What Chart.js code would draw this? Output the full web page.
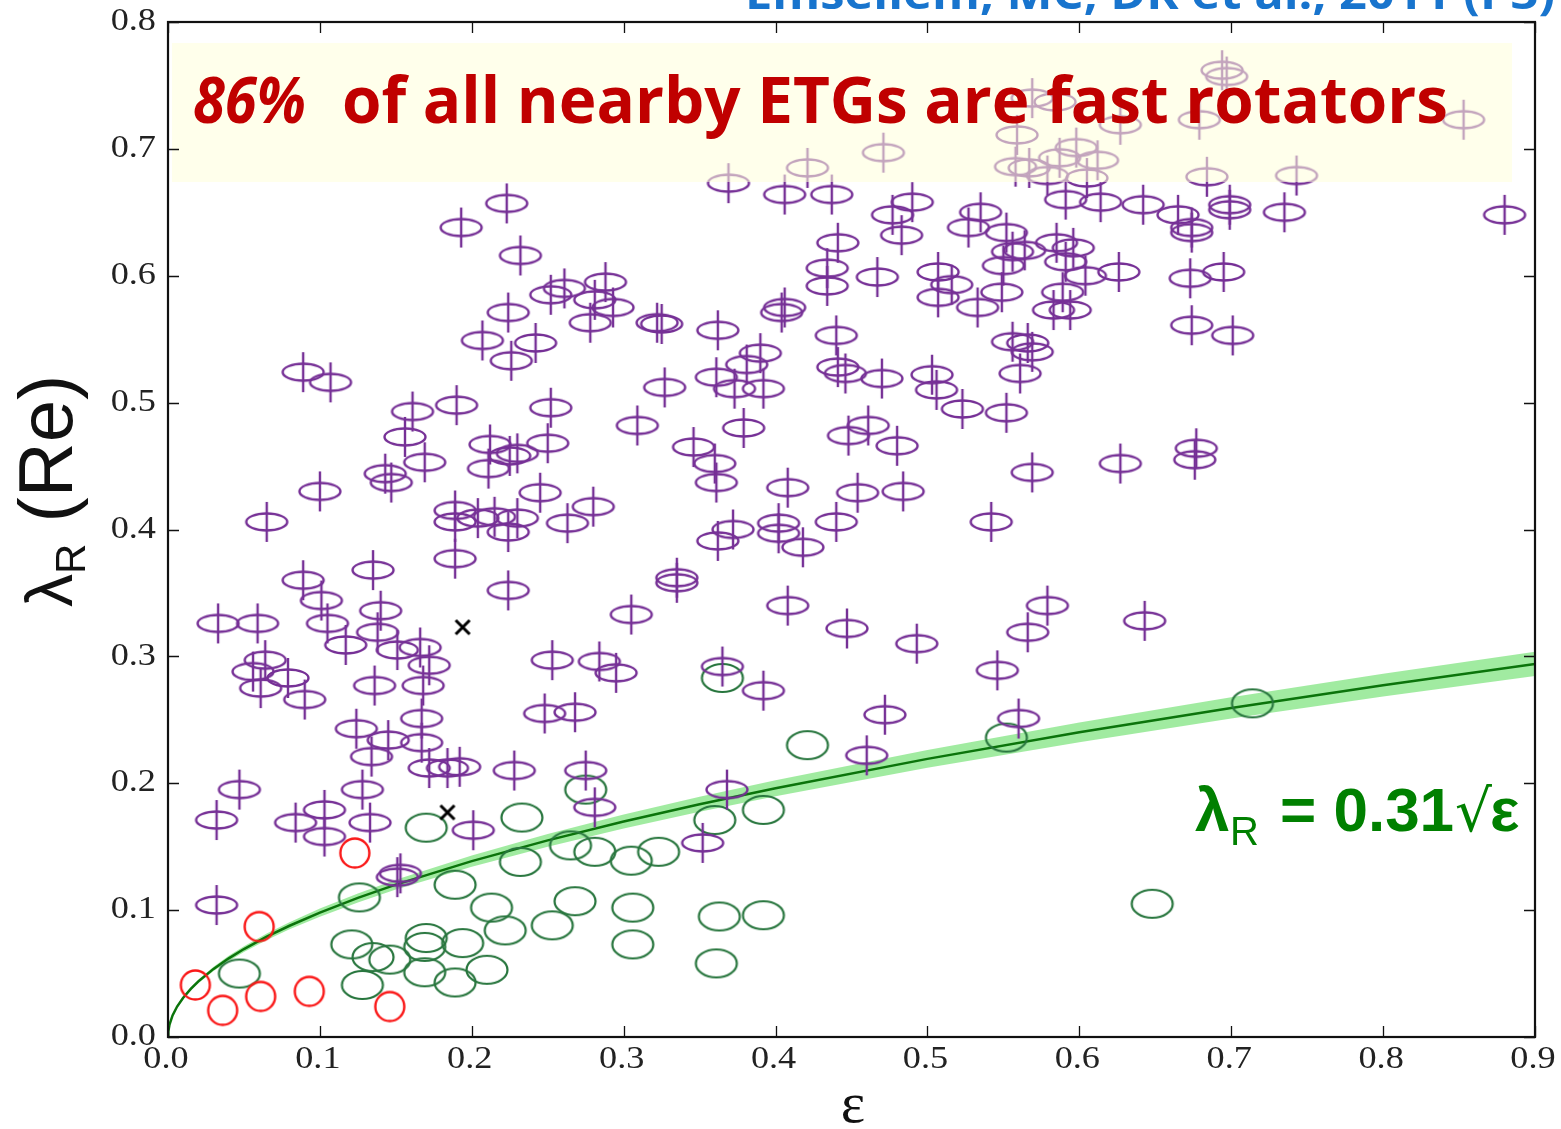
<!DOCTYPE html>
<html>
<head>
<meta charset="utf-8">
<script src="https://cdn.jsdelivr.net/npm/chart.js@4.4.0/dist/chart.umd.min.js"></script>
<style>
  html, body { margin: 0; padding: 0; background: #fff; }
</style>
</head>
<body>
<canvas id="lambdaChart" width="1561" height="1129"></canvas>
<script>
// fast rotators (ellipticity, lambda_R)
const fastEps = [0.694,0.697,0.853,0.679,0.627,0.559,0.569,0.584,0.471,0.421,0.369,0.598,0.612,0.587,0.558,0.567,0.579,0.605,0.684,0.743,
  0.880,0.735,0.699,0.699,0.665,0.642,0.614,0.591,0.674,0.674,0.585,0.596,0.591,0.604,0.626,0.673,0.695,0.589,0.583,0.594,0.674,0.701,
  0.406,0.437,0.490,0.477,0.483,0.535,0.527,0.552,0.556,0.564,0.550,0.441,0.434,0.434,0.467,0.507,0.516,0.507,0.533,0.549,
  0.288,0.281,0.293,0.278,0.322,0.325,0.362,0.406,0.404,0.440,0.556,0.566,0.569,0.561,0.523,0.552,0.503,0.506,0.470,0.441,0.446,
  0.390,0.381,0.361,0.373,0.392,0.327,0.309,0.379,0.346,0.360,0.361,0.461,0.448,0.480,0.569,0.408,0.454,0.484,0.440,0.542,
  0.372,0.362,0.402,0.402,0.418,0.335,0.335,0.223,0.193,0.232,0.261,0.252,0.224,0.207,0.242,0.226,0.089,0.107,0.161,0.190,0.252,
  0.156,0.169,0.143,0.147,0.212,0.230,0.225,0.250,0.211,0.100,0.065,0.189,0.189,0.215,0.230,0.204,0.224,0.245,0.280,0.263,
  0.189,0.135,0.089,0.224,0.101,0.140,0.033,0.059,0.105,0.138,0.117,0.166,0.151,0.064,0.172,0.056,0.079,0.061,0.136,0.168,0.090,
  0.253,0.284,0.295,0.248,0.268,0.124,0.145,0.167,0.167,0.134,0.172,0.184,0.192,0.228,0.275,0.047,0.128,0.103,0.032,0.084,0.133,
  0.103,0.201,0.281,0.153,0.151,0.305,0.408,0.447,0.493,0.546,0.566,0.579,0.365,0.392,0.472,0.560,0.460,0.368,0.352,
  0.627,0.677,0.676,0.643,0.032];
const fastLam = [0.762,0.757,0.723,0.723,0.719,0.711,0.740,0.737,0.697,0.685,0.673,0.701,0.691,0.693,0.686,0.685,0.679,0.677,0.678,0.679,
  0.648,0.650,0.656,0.652,0.648,0.656,0.658,0.660,0.638,0.634,0.626,0.622,0.611,0.600,0.603,0.598,0.603,0.587,0.573,0.573,0.561,0.553,
  0.664,0.664,0.658,0.648,0.632,0.650,0.638,0.634,0.619,0.620,0.608,0.626,0.606,0.592,0.599,0.603,0.593,0.583,0.575,0.587,
  0.595,0.581,0.575,0.563,0.563,0.562,0.557,0.575,0.571,0.553,0.548,0.547,0.540,0.523,0.495,0.492,0.522,0.510,0.519,0.528,0.523,
  0.539,0.530,0.520,0.511,0.511,0.512,0.482,0.480,0.465,0.452,0.437,0.482,0.474,0.466,0.445,0.433,0.429,0.430,0.406,0.406,
  0.400,0.391,0.405,0.397,0.386,0.362,0.358,0.657,0.638,0.616,0.590,0.585,0.571,0.549,0.547,0.533,0.524,0.516,0.493,0.498,0.496,
  0.473,0.453,0.444,0.437,0.467,0.460,0.458,0.468,0.448,0.430,0.406,0.415,0.406,0.410,0.409,0.409,0.398,0.429,0.418,0.405,
  0.377,0.368,0.360,0.352,0.344,0.336,0.326,0.326,0.326,0.319,0.309,0.307,0.305,0.297,0.293,0.288,0.283,0.275,0.277,0.277,0.266,
  0.297,0.296,0.287,0.255,0.256,0.243,0.234,0.232,0.251,0.221,0.212,0.212,0.213,0.210,0.210,0.195,0.195,0.179,0.171,0.169,0.169,
  0.158,0.163,0.181,0.129,0.126,0.333,0.340,0.322,0.310,0.289,0.319,0.340,0.292,0.273,0.254,0.251,0.222,0.195,0.153,
  0.452,0.464,0.455,0.328,0.104];

// slow rotators
const slowEps = [0.714,0.552,0.421,0.648,0.392,0.360,0.365,0.275,0.233,0.170,0.265,0.281,0.305,0.323,0.232,0.189,0.126,0.213,0.268,
  0.306,0.363,0.392,0.121,0.170,0.169,0.194,0.253,0.222,0.306,0.135,0.146,0.169,0.210,0.189,0.128,0.047,0.361];
const slowLam = [0.263,0.236,0.230,0.105,0.179,0.171,0.283,0.195,0.173,0.165,0.151,0.146,0.139,0.146,0.138,0.120,0.110,0.102,0.107,
  0.102,0.095,0.096,0.073,0.078,0.071,0.074,0.088,0.084,0.073,0.063,0.061,0.051,0.053,0.043,0.041,0.050,0.058];

// low-ellipticity slow rotators (red circles)
const redEps = [0.018,0.036,0.061,0.093,0.146,0.060,0.123];
const redLam = [0.041,0.021,0.032,0.036,0.024,0.087,0.145];

// unclassified (black crosses)
const crossEps = [0.194,0.184];
const crossLam = [0.323,0.177];

// lambda_R = 0.31 sqrt(eps), band +/- 0.01 on the coefficient
const fitCoef = 0.31;
const fitSpread = 0.01;
const curveEps = [0, 0.0002, 0.001, 0.003, 0.006, 0.01, 0.015, 0.02, 0.03, 0.04, 0.05, 0.065, 0.08, 0.1, 0.125, 0.15, 0.2,
  0.25, 0.3, 0.35, 0.4, 0.5, 0.6, 0.7, 0.8, 0.9];

const xTicks = [0.0, 0.1, 0.2, 0.3, 0.4, 0.5, 0.6, 0.7, 0.8, 0.9];
const yTicks = [0.0, 0.1, 0.2, 0.3, 0.4, 0.5, 0.6, 0.7, 0.8];

function pairs(xs, ys) {
  return xs.map((x, i) => ({ x: x, y: ys[i] }));
}
function curve(coef) {
  return curveEps.map(e => ({ x: e, y: coef * Math.sqrt(e) }));
}

function makeMarker(w, h, paint) {
  const c = document.createElement('canvas');
  c.width = w;
  c.height = h;
  paint(c.getContext('2d'), w / 2, h / 2);
  return c;
}

const purpleMark = makeMarker(48, 46, (g, cx, cy) => {
  g.strokeStyle = 'rgb(118,48,150)';
  g.lineWidth = 2.4;
  g.beginPath();
  g.ellipse(cx, cy, 20.5, 8.5, 0, 0, Math.PI * 2);
  g.stroke();
  g.beginPath();
  g.moveTo(cx, cy - 20);
  g.lineTo(cx, cy + 20);
  g.stroke();
});
const greenMark = makeMarker(48, 34, (g, cx, cy) => {
  g.strokeStyle = 'rgb(40,118,62)';
  g.lineWidth = 2.2;
  g.beginPath();
  g.ellipse(cx, cy, 20.5, 14, 0, 0, Math.PI * 2);
  g.stroke();
});
const redMark = makeMarker(36, 36, (g, cx, cy) => {
  g.strokeStyle = 'rgb(250,25,25)';
  g.lineWidth = 2.4;
  g.beginPath();
  g.arc(cx, cy, 14.5, 0, Math.PI * 2);
  g.stroke();
});
const crossMark = makeMarker(22, 22, (g, cx, cy) => {
  g.strokeStyle = '#000';
  g.lineWidth = 3;
  g.beginPath();
  g.moveTo(cx - 7, cy - 7); g.lineTo(cx + 7, cy + 7);
  g.moveTo(cx + 7, cy - 7); g.lineTo(cx - 7, cy + 7);
  g.stroke();
});

// banner box over the top of the data + its text
const bannerPlugin = {
  id: 'banner',
  afterDatasetsDraw(chart) {
    const ctx = chart.ctx;
    ctx.save();
    ctx.fillStyle = 'rgba(255,255,219,0.56)';
    ctx.fillRect(172, 43, 1340, 139);

    ctx.fillStyle = '#c00000';
    ctx.textBaseline = 'alphabetic';
    const rest = 'of all nearby ETGs are fast rotators';
    ctx.font = 'bold 70px "Open Sans"';
    const size = 70 * 1106 / ctx.measureText(rest).width;
    ctx.font = 'italic bold ' + size.toFixed(1) + 'px "Open Sans"';
    const pw = ctx.measureText('86%').width;
    ctx.save();
    ctx.translate(193, 123);
    ctx.scale(113 / pw, 1);
    ctx.fillText('86%', 0, 0);
    ctx.restore();
    ctx.font = 'bold ' + size.toFixed(1) + 'px "Open Sans"';
    ctx.fillText(rest, 342, 123);
    ctx.restore();
  }
};

const framePlugin = {
  id: 'frame',
  afterDraw(chart) {
    const ctx = chart.ctx;
    const a = chart.chartArea;
    const xs = chart.scales.x, ys = chart.scales.y;
    ctx.save();

    // inward ticks on all four sides
    ctx.strokeStyle = '#111';
    ctx.lineWidth = 1.3;
    ctx.beginPath();
    xTicks.forEach(v => {
      const px = Math.round(xs.getPixelForValue(v)) + 0.5;
      ctx.moveTo(px, a.bottom); ctx.lineTo(px, a.bottom - 11);
      ctx.moveTo(px, a.top); ctx.lineTo(px, a.top + 11);
    });
    yTicks.forEach(v => {
      const py = Math.round(ys.getPixelForValue(v)) + 0.5;
      ctx.moveTo(a.left, py); ctx.lineTo(a.left + 11, py);
      ctx.moveTo(a.right, py); ctx.lineTo(a.right - 11, py);
    });
    ctx.stroke();

    ctx.lineWidth = 2.2;
    ctx.strokeStyle = '#111';
    ctx.strokeRect(a.left, a.top, a.right - a.left, a.bottom - a.top);

    // tick labels, stretched a little to the wider TeX-style digits
    ctx.fillStyle = '#222';
    ctx.font = '31px "Liberation Serif"';
    ctx.textBaseline = 'middle';
    yTicks.forEach(v => {
      ctx.save();
      ctx.translate(156, ys.getPixelForValue(v));
      ctx.scale(1.17, 1);
      ctx.textAlign = 'right';
      ctx.fillText(v.toFixed(1), 0, 0);
      ctx.restore();
    });
    ctx.textBaseline = 'top';
    xTicks.forEach(v => {
      ctx.save();
      ctx.translate(xs.getPixelForValue(v) - 2, 1044);
      ctx.scale(1.17, 1);
      ctx.textAlign = 'center';
      ctx.fillText(v.toFixed(1), 0, 0);
      ctx.restore();
    });

    // axis titles
    ctx.fillStyle = '#111';
    ctx.textAlign = 'center';
    ctx.font = '58px "Liberation Serif"';
    ctx.textBaseline = 'alphabetic';
    ctx.fillText('\u03b5', 853, 1122);

    ctx.save();
    ctx.translate(72, 607);
    ctx.rotate(-Math.PI / 2);
    ctx.textAlign = 'left';
    ctx.font = '66px "Liberation Sans"';
    ctx.fillText('\u03bb', 0, 0);
    let off = ctx.measureText('\u03bb').width;
    ctx.font = '42px "Liberation Sans"';
    ctx.fillText('R', off, 13);
    off += ctx.measureText('R').width;
    ctx.font = '76px "Liberation Sans"';
    ctx.fillText(' (Re)', off, 0);
    ctx.restore();

    // fit formula
    ctx.fillStyle = '#008000';
    ctx.textAlign = 'left';
    ctx.font = 'bold 62px "Liberation Sans"';
    ctx.fillText('\u03bb', 1195, 831);
    ctx.font = '40px "Liberation Sans"';
    ctx.fillText('R', 1230, 845);
    ctx.font = 'bold 62px "Liberation Sans"';
    ctx.fillText('= 0.31', 1280, 831);
    ctx.font = '58px "DejaVu Sans"';
    ctx.fillText('\u221a', 1455, 831);
    ctx.font = 'bold 62px "Liberation Sans"';
    ctx.fillText('\u03b5', 1490, 831);

    // reference line, cut off at the top edge
    ctx.fillStyle = '#1874cd';
    ctx.font = 'bold 44px "Open Sans"';
    const ref = 'Emsellem, MC, DK et al., 2011 (P3)';
    const w = ctx.measureText(ref).width;
    ctx.save();
    ctx.translate(745, 9);
    ctx.scale(810 / w, 1);
    ctx.fillText(ref, 0, 0);
    ctx.restore();

    ctx.restore();
  }
};

const ctx = document.getElementById('lambdaChart');
new Chart(ctx, {
  type: 'scatter',
  data: {
    datasets: [
      { label: 'unclassified', data: pairs(crossEps, crossLam), pointStyle: crossMark, pointRadius: 8, order: 0 },
      { label: 'fast', data: pairs(fastEps, fastLam), pointStyle: purpleMark, pointRadius: 10, order: 1 },
      { label: 'red', data: pairs(redEps, redLam), pointStyle: redMark, pointRadius: 10, order: 2 },
      { label: 'slow', data: pairs(slowEps, slowLam), pointStyle: greenMark, pointRadius: 10, order: 3 },
      { type: 'line', label: 'fit', data: curve(fitCoef), borderColor: '#0b740b', borderWidth: 2.5,
        pointRadius: 0, fill: false, tension: 0, order: 4 },
      { type: 'line', label: 'low', data: curve(fitCoef - fitSpread), borderWidth: 0, borderColor: 'rgba(0,0,0,0)',
        pointRadius: 0, fill: false, tension: 0, order: 6 },
      { type: 'line', label: 'high', data: curve(fitCoef + fitSpread), borderWidth: 0, borderColor: 'rgba(0,0,0,0)',
        backgroundColor: 'rgba(110,225,110,0.65)', pointRadius: 0, fill: 5, tension: 0, order: 5 }
    ]
  },
  options: {
    responsive: false,
    animation: false,
    events: [],
    devicePixelRatio: 1,
    layout: { padding: { left: 168, right: 26, top: 22, bottom: 92 } },
    scales: {
      x: { type: 'linear', min: 0, max: 0.9, display: false },
      y: { type: 'linear', min: 0, max: 0.8, display: false }
    },
    plugins: { legend: { display: false }, tooltip: { enabled: false } }
  },
  plugins: [bannerPlugin, framePlugin]
});
</script>
</body>
</html>
